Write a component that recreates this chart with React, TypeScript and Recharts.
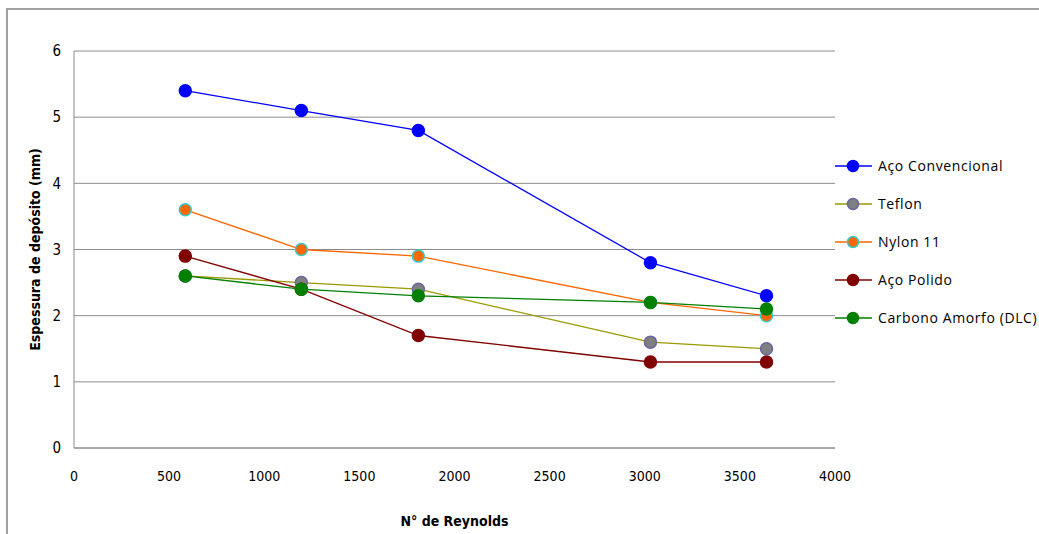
import React from "react";
import {
  LineChart,
  Line,
  XAxis,
  YAxis,
  CartesianGrid,
} from "recharts";

// Reynolds numbers tested
const reynolds = [585, 1195, 1810, 3030, 3640];

// Deposit thickness (mm) for each surface
const acoConvencional = [5.4, 5.1, 4.8, 2.8, 2.3];
const teflon = [2.6, 2.5, 2.4, 1.6, 1.5];
const nylon11 = [3.6, 3.0, 2.9, 2.2, 2.0];
const acoPolido = [2.9, 2.4, 1.7, 1.3, 1.3];
const carbonoAmorfo = [2.6, 2.4, 2.3, 2.2, 2.1];

const xTicks = [0, 500, 1000, 1500, 2000, 2500, 3000, 3500, 4000];
const yTicks = [0, 1, 2, 3, 4, 5, 6];

const series = [
  { key: "aco", name: "Aço Convencional", values: acoConvencional, line: "#0000FF", fill: "#0000FF", stroke: "#0000FF" },
  { key: "teflon", name: "Teflon", values: teflon, line: "#999900", fill: "#808080", stroke: "#6666A0" },
  { key: "nylon", name: "Nylon 11", values: nylon11, line: "#FF6600", fill: "#FF6600", stroke: "#33CCCC" },
  { key: "polido", name: "Aço Polido", values: acoPolido, line: "#800000", fill: "#800000", stroke: "#800000" },
  { key: "dlc", name: "Carbono Amorfo (DLC)", values: carbonoAmorfo, line: "#008000", fill: "#008000", stroke: "#008000" },
];

const data = reynolds.map((re, i) => {
  const row: Record<string, number> = { re };
  series.forEach((s) => {
    row[s.key] = s.values[i];
  });
  return row;
});

const tickFont = "'Liberation Sans Narrow', 'DejaVu Sans Condensed', 'Open Sans', sans-serif";
const legendFont = "'Open Sans', 'Liberation Sans', sans-serif";

function LegendBox() {
  return (
    <svg width={204} height={190} style={{ position: "absolute", left: 835, top: 150 }}>
      {series.map((s, i) => {
        const y = 16 + i * 38;
        return (
          <g key={s.key}>
            <line x1={0} x2={37} y1={y} y2={y} stroke={s.line} strokeWidth={1.5} />
            <circle cx={18} cy={y} r={5.5} fill={s.fill} stroke={s.stroke} strokeWidth={1.5} />
            <text
              x={43}
              y={y}
              dy="0.35em"
              fontSize={14}
              fontFamily={legendFont}
              fill="#000"
              letterSpacing={0.6}
            >
              {s.name}
            </text>
          </g>
        );
      })}
    </svg>
  );
}

export default function App() {
  return (
    <div style={{ position: "absolute", left: 0, top: 0, width: 1039, height: 534, background: "#fff" }}>
      <div
        style={{
          position: "absolute",
          left: 6,
          top: 8,
          width: 1033,
          height: 526,
          borderTop: "2px solid #A0A0A0",
          borderLeft: "2px solid #A0A0A0",
          boxSizing: "border-box",
        }}
      />
      <div style={{ position: "absolute", left: 0, top: 0 }}>
        <LineChart
          width={1039}
          height={534}
          data={data}
          margin={{ top: 51, right: 204, bottom: 0, left: 34 }}
        >
          <CartesianGrid vertical={false} stroke="#8C8C8C" strokeWidth={1} />
          <XAxis
            dataKey="re"
            type="number"
            domain={[0, 4000]}
            ticks={xTicks}
            interval={0}
            height={86}
            tickLine={false}
            tickMargin={17}
            axisLine={{ stroke: "#8C8C8C" }}
            tick={{ fontSize: 14, fill: "#000", fontFamily: tickFont }}
            label={{
              value: "N° de Reynolds",
              position: "insideBottom",
              offset: 8,
              fontSize: 14,
              fontWeight: "bold",
              fill: "#000",
              fontFamily: tickFont,
            }}
          />
          <YAxis
            type="number"
            domain={[0, 6]}
            ticks={yTicks}
            interval={0}
            width={40}
            tickLine={false}
            tickMargin={7}
            axisLine={{ stroke: "#8C8C8C" }}
            tick={{ fontSize: 15, fill: "#000", fontFamily: tickFont }}
            label={{
              value: "Espessura de depósito (mm)",
              angle: -90,
              position: "center",
              dx: -19,
              fontSize: 14,
              fontWeight: "bold",
              fill: "#000",
              fontFamily: tickFont,
            }}
          />
          {series.map((s) => (
            <Line
              key={s.key}
              dataKey={s.key}
              name={s.name}
              type="linear"
              stroke={s.line}
              strokeWidth={1.3}
              isAnimationActive={false}
              dot={{ r: 6, fill: s.fill, stroke: s.stroke, strokeWidth: 1.5 }}
              activeDot={false}
            />
          ))}
        </LineChart>
      </div>
      <LegendBox />
    </div>
  );
}
